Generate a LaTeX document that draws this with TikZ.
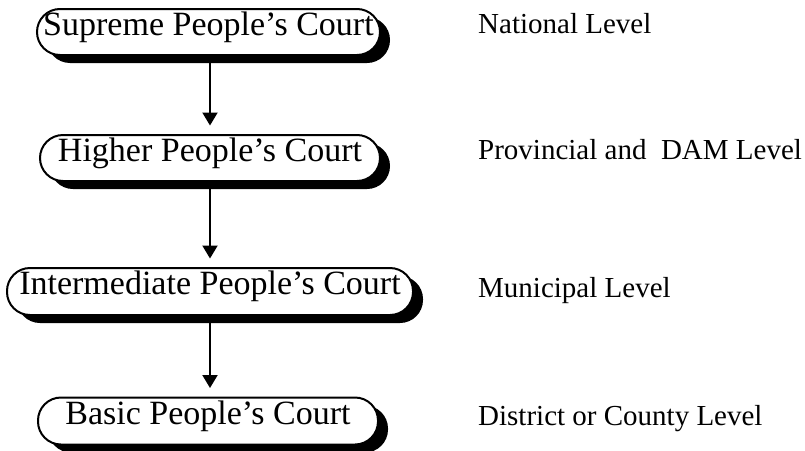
\documentclass[tikz,border=0pt]{standalone}
\usepackage{fontspec}
\setmainfont{Liberation Serif}
\usetikzlibrary{shadows,arrows.meta}
\begin{document}
\begin{tikzpicture}[x=1pt,y=-1pt,
  court/.style={draw=black, line width=2pt, fill=white, rounded corners=23pt,
    inner sep=0pt, minimum height=46pt, text height=21pt, text depth=15pt,
    font=\fontsize{34}{34}\selectfont,
    drop shadow={shadow xshift=10pt, shadow yshift=-8pt, fill=black, opacity=1}},
  lvl/.style={anchor=base west, inner sep=0pt, font=\fontsize{29}{29}\selectfont},
  link/.style={line width=2pt, -{Triangle[width=15pt,length=13pt]}, shorten >=8.5pt}]
\useasboundingbox (0,0) rectangle (805,450);
\node[court, minimum width=343pt] (b1) at (208.5,32) {Supreme People's Court};
\node[court, minimum width=340pt] (b2) at (210,158) {Higher People's Court};
\node[court, minimum width=406pt, minimum height=47pt] (b3) at (210,291.5) {Intermediate People's Court};
\node[court, minimum width=340pt, minimum height=47pt] (b4) at (208,421) {Basic People's Court};
\draw[link] (b1.south -| b2.north) -- (b2.north);
\draw[link] (b2.south) -- (b3.north);
\draw[link] (b3.south) -- (b4.north -| b3.south);
\node[lvl] (l1) at (478,33) {National Level};
\node[lvl] (l2) at (478,159) {Provincial and\ \ DAM Level};
\node[lvl] (l3) at (478,297) {Municipal Level};
\node[lvl] (l4) at (478,425) {District or County Level};
\end{tikzpicture}
\end{document}
